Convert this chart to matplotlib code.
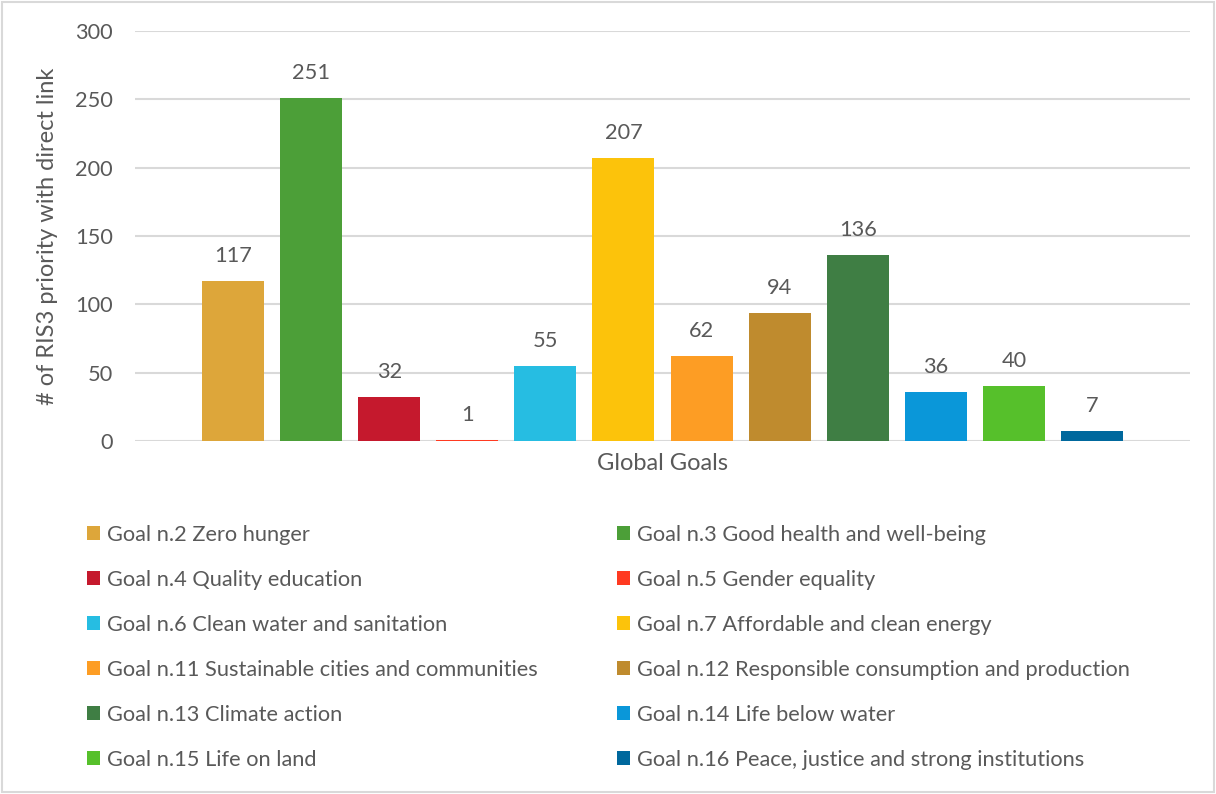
import numpy as np
import matplotlib.pyplot as plt
from matplotlib.patches import Patch, Rectangle

plt.rcParams['font.family'] = ['Lato', 'DejaVu Sans']

# Data
goals = [
    "Goal n.2 Zero hunger",
    "Goal n.3 Good health and well-being",
    "Goal n.4 Quality education",
    "Goal n.5 Gender equality",
    "Goal n.6 Clean water and sanitation",
    "Goal n.7 Affordable and clean energy",
    "Goal n.11 Sustainable cities and communities",
    "Goal n.12 Responsible consumption and production",
    "Goal n.13 Climate action",
    "Goal n.14 Life below water",
    "Goal n.15 Life on land",
    "Goal n.16 Peace, justice and strong institutions",
]
counts = [117, 251, 32, 1, 55, 207, 62, 94, 136, 36, 40, 7]
colors = ["#DDA63A", "#4C9F38", "#C5192D", "#FF3A21", "#26BDE2", "#FCC30B",
          "#FD9D24", "#BF8B2E", "#3F7E44", "#0A97D9", "#56C02B", "#00689D"]
yticks = [0, 50, 100, 150, 200, 250, 300]

txt = "#595959"
grid = "#d9d9d9"
fs = 15.7

fig = plt.figure(figsize=(12.16, 7.94), dpi=100)
ax = fig.add_axes([135 / 1216, 1 - 441 / 794, 1055 / 1216, 410 / 794])

x = np.arange(len(counts))
bars = ax.bar(x, counts, width=0.795, color=colors, zorder=3)
for b, v in zip(bars, counts):
    ax.annotate(str(v), (b.get_x() + b.get_width() / 2, v),
                xytext=(0, 18), textcoords="offset points",
                ha="center", va="center", fontsize=fs, color=txt)

ax.set_xlim(-1.256, len(counts) - 1 + 1.256)
ax.set_ylim(0, 300)
ax.set_yticks(yticks)
ax.yaxis.grid(True, color=grid, linewidth=1.5, zorder=0)
ax.set_xticks([])
ax.tick_params(axis="y", length=0, pad=16, labelsize=fs, labelcolor=txt)
for s in ax.spines.values():
    s.set_visible(False)
ax.set_xlabel("Global Goals", fontsize=17, color=txt, labelpad=9)
ax.set_ylabel("# of RIS3 priority with direct link", fontsize=17, color=txt, labelpad=12)

# Legend in two columns, drawn as two legends
for col, x0 in enumerate([87, 617]):
    handles = [Patch(facecolor=colors[i], label=goals[i])
               for i in range(col, len(goals), 2)]
    fig.legend(handles=handles, loc="upper left",
               bbox_to_anchor=(x0 / 1216, 1 - 525 / 794),
               frameon=False, fontsize=fs, labelcolor=txt,
               handlelength=0.6, handleheight=0.6, handletextpad=0.3,
               labelspacing=1.145, borderpad=0, borderaxespad=0)

fig.patches.append(Rectangle((0.002, 0.002), 0.996, 0.996, transform=fig.transFigure,
                             fill=False, edgecolor=grid, linewidth=1.5))

fig.savefig("out.png", dpi=100)
